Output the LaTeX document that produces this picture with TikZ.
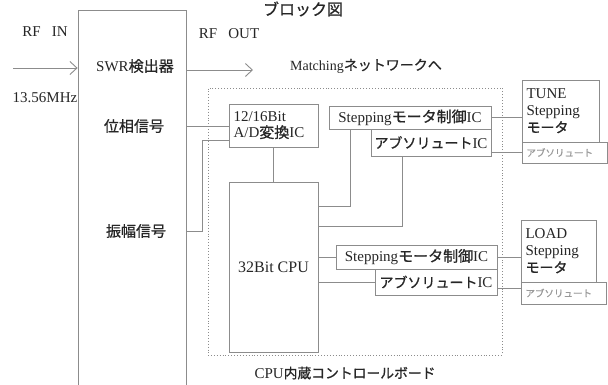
\documentclass[tikz,border=0pt]{standalone}
\usepackage{fontspec}
\setmainfont{Liberation Serif}
\newfontfamily\jp[FakeBold=0.8]{Noto Sans CJK JP}
\newcommand\J[1]{{\jp #1}}
\usetikzlibrary{arrows.meta,calc}
\begin{document}
\begin{tikzpicture}[x=1pt,y=-1pt,
  wire/.style={draw=black!45, line width=0.8pt},
  box/.style={draw=black!45, line width=0.8pt, rectangle, inner sep=0pt, text=black!85, font=\fontsize{15}{18}\selectfont},
  lbl/.style={inner sep=0pt, text=black!85, font=\fontsize{15}{18}\selectfont},
  small/.style={box, text=black!40, font=\jp\fontsize{9.5}{11}\selectfont},
  arr/.style={wire, -{Straight Barb[length=7pt,width=13pt,line width=0.9pt]}}]
\useasboundingbox (0,0) rectangle (608,384);
\fill[white] (0,0) rectangle (608,384);
\clip (0,0) rectangle (608,384);

% title
\node[lbl, font=\jp\fontsize{16}{18}\selectfont] (title) at (303,9) {ブロック図};

% SWR detector
\node[box, minimum width=108, minimum height=400] (swr) at (132,210) {};
\node[lbl] (swrdet) at (135,66) {SWR\J{検出器}};
\node[lbl, font=\jp\fontsize{15}{18}\selectfont] (phase) at (134,126) {位相信号};
\node[lbl, font=\jp\fontsize{15}{18}\selectfont] (amp) at (136,231) {振幅信号};

\node[lbl] (rfin) at (45,32) {RF\ \ \ IN};
\node[lbl] (freq) at (45,98) {13.56MHz};
\node[lbl] (rfout) at (229,34) {RF\ \ \ OUT};
\node[lbl, font=\fontsize{14}{16}\selectfont] (match) at (366,66) {Matching{\jp ネットワークへ}};

\coordinate (inL) at (13,68);
\coordinate (outR) at (253,70);
\draw[arr] (inL) -- (swr.west |- inL);
\draw[arr] (swr.east |- outR) -- (outR);

% board
\node[draw=black!45, dotted, line width=0.9pt, rectangle, minimum width=294, minimum height=267, inner sep=0pt] (board) at (355,221.5) {};
\node[lbl] (boardlbl) at (345,373) {CPU{\jp\fontsize{13.8}{16}\selectfont 内蔵コントロールボード}};

% A/D and CPU
\node[box, minimum width=89, minimum height=43, align=left, text width=80] (ad) at (273.5,125.5) {12/16Bit\\[-2pt]A/D\J{変換}IC};
\node[box, minimum width=89, minimum height=170, font=\fontsize{16}{18}\selectfont] (cpu) at (273.5,267) {32Bit CPU};

% upper ICs
\node[box, minimum width=162, minimum height=23] (step1) at (410,117.5) {Stepping\J{モータ制御}IC};
\node[box, minimum width=120, minimum height=27] (abs1) at (431,142.5) {{\jp\fontsize{14}{16}\selectfont アブソリュート}IC};
% lower ICs
\node[box, minimum width=161, minimum height=24] (step2) at (416.5,257) {Stepping\J{モータ制御}IC};
\node[box, minimum width=122, minimum height=26] (abs2) at (436,282) {{\jp\fontsize{14}{16}\selectfont アブソリュート}IC};

% motors
\node[box, minimum width=77, minimum height=62, align=left, text width=68] (tune) at (560.5,111) {TUNE\\[-1pt]Stepping\\[-1pt]{\jp\fontsize{14}{16}\selectfont モータ}};
\node[small, minimum width=85, minimum height=21, align=left, text width=76] (tabs) at (564.5,152.5) {アブソリュート};
\node[box, minimum width=75, minimum height=62, align=left, text width=66] (load) at (558.5,251) {LOAD\\[-1pt]Stepping\\[-1pt]{\jp\fontsize{14}{16}\selectfont モータ}};
\node[small, minimum width=85, minimum height=22, align=left, text width=76] (labs) at (563.5,293) {アブソリュート};

% connectors
\coordinate (adin) at (229,140);
\draw[wire] (swr.east |- phase) -- (ad.west |- phase);
\draw[wire] (swr.east |- amp) -| ($(adin)+(-27,0)$) -- (adin);
\draw[wire] (ad.south) -- (cpu.north);
\draw[wire] ($(step1.south west)+(22,0)$) |- ($(cpu.north east)+(0,25)$);
\draw[wire] ($(abs1.south west)+(32,0)$) |- ($(cpu.north east)+(0,45)$);
\draw[wire] (step2.west) -- (cpu.east |- step2.west);
\draw[wire] (abs2.west) -- (cpu.east |- abs2.west);
\draw[wire] (step1.east) -- (tune.west |- step1.east);
\draw[wire] (abs1.east |- tabs.west) -- (tabs.west);
\draw[wire] (step2.east) -- (load.west |- step2.east);
\draw[wire] ($(abs2.south east)+(0,-7)$) -- (labs.west |- {$(abs2.south east)+(0,-7)$});
\end{tikzpicture}
\end{document}
